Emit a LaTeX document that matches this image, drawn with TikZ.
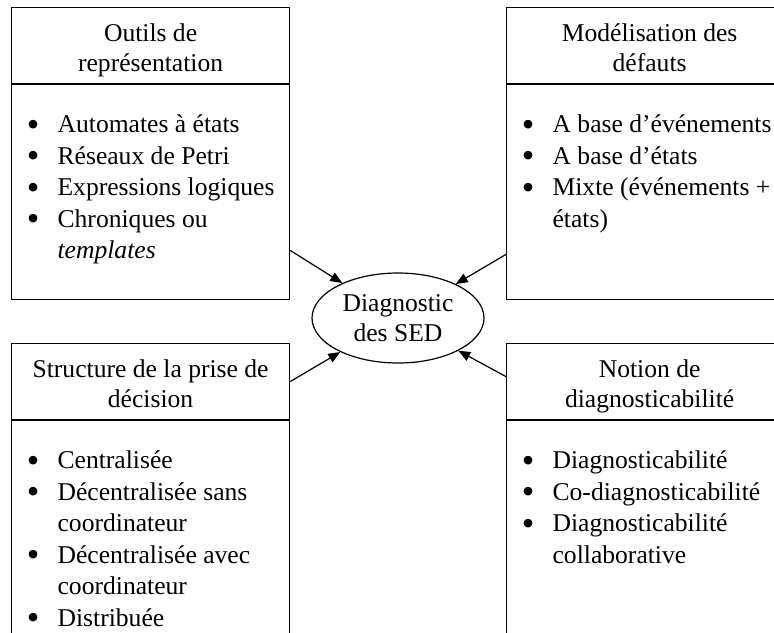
\documentclass[tikz,border=0pt]{standalone}
\usepackage{fontspec}
\usepackage{graphicx}
\setmainfont{Liberation Serif}
\usetikzlibrary{arrows.meta,shapes.geometric}

\newcommand{\titrebox}[3]{\parbox[c][38pt][t]{#1}{\centering\vspace*{6.25pt}\strut#2\\\strut#3\par}}
\newcommand{\listebox}[3]{\parbox[c][#2][t]{#1}{\raggedright\parskip=0pt\vspace*{13pt}#3\par}}
\newcommand{\puce}[1]{\par\noindent\hangindent=23pt\hangafter=1\strut\makebox[23pt][l]{\hspace{7.6pt}\raisebox{-1.7pt}{\scalebox{1.4}{\textbullet}}}#1}

\begin{document}
\begin{tikzpicture}[x=0.5pt,y=-0.5pt,
  tete/.style={draw, line width=0.6pt, inner sep=0pt, anchor=north west, font=\fontsize{12.8}{15}\selectfont},
  corps/.style={draw, line width=0.6pt, inner sep=0pt, anchor=north west, font=\fontsize{12.8}{15.75}\selectfont},
  bulle/.style={draw, line width=0.6pt, ellipse, minimum width=86pt, minimum height=45pt, inner sep=0pt, align=center, font=\fontsize{12.8}{15}\selectfont},
  fleche/.style={line width=0.6pt, -{Triangle[length=6pt,width=4.8pt]}}]

\path[use as bounding box, clip] (0,0) rectangle (774,632);

\node[tete] (outilsT) at (11,7) {\titrebox{139pt}{Outils de}{représentation}};
\node[corps] (outilsC) at (outilsT.south west) {\listebox{139pt}{107.5pt}{%
  \puce{Automates à états}\puce{Réseaux de Petri}\puce{Expressions logiques}%
  \puce{Chroniques ou\newline\strut\textit{templates}}}};

\node[tete] (modelT) at (506,7) {\titrebox{143pt}{Modélisation des}{défauts}};
\node[corps] (modelC) at (modelT.south west) {\listebox{143pt}{107.5pt}{%
  \puce{A base d’événements}\puce{A base d’états}%
  \puce{Mixte (événements +\newline\strut états)}}};

\node[tete] (decisionT) at (11,343) {\titrebox{139pt}{Structure de la prise de}{décision}};
\node[corps] (decisionC) at (decisionT.south west) {\listebox{139pt}{130pt}{%
  \puce{Centralisée}\puce{Décentralisée sans\newline\strut coordinateur}%
  \puce{Décentralisée avec\newline\strut coordinateur}\puce{Distribuée}}};

\node[tete] (notionT) at (506,343) {\titrebox{143pt}{Notion de}{diagnosticabilité}};
\node[corps] (notionC) at (notionT.south west) {\listebox{143pt}{130pt}{%
  \puce{Diagnosticabilité}\puce{Co-diagnosticabilité}%
  \puce{Diagnosticabilité\newline\strut collaborative}}};

\node[bulle] (diag) at (398,318) {Diagnostic\\des SED};

\draw[fleche] ([yshift=25pt]outilsC.south east) -- (diag);
\draw[fleche] ([yshift=23pt]modelC.south west) -- (diag);
\draw[fleche] (decisionT.east) -- (diag);
\draw[fleche] ([yshift=2.5pt]notionT.west) -- (diag);
\end{tikzpicture}
\end{document}
